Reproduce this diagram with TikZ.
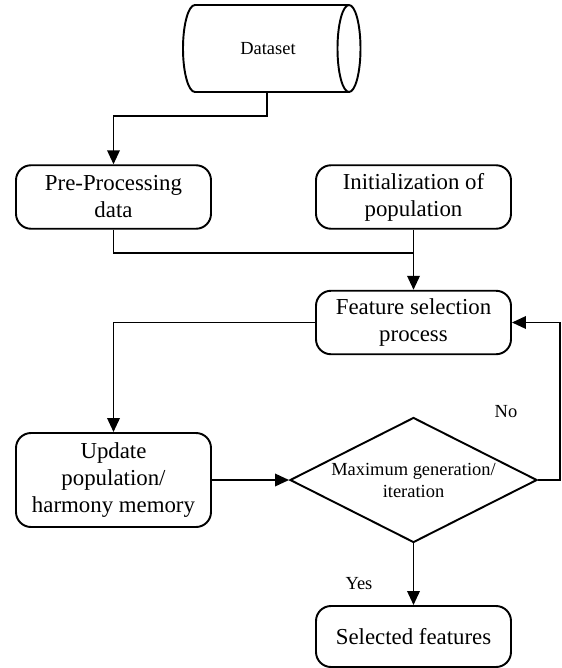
\documentclass[tikz,border=0pt]{standalone}
\usepackage{fontspec}
\setmainfont{Liberation Serif}
\usetikzlibrary{positioning}
\usetikzlibrary{shapes.geometric}
\usetikzlibrary{arrows.meta}

\tikzset{
  procbox/.style={draw, rounded corners=0.3cm, minimum width=3.9cm, minimum height=1.27cm, inner sep=0pt, align=center, font=\fontsize{13}{15.4}\selectfont},
  decbox/.style={draw, diamond, aspect=1.98, minimum width=4.94cm, minimum height=2.5cm, inner sep=0pt, align=center, font=\fontsize{10.5}{12.5}\selectfont},
  smalltxt/.style={font=\fontsize{10.5}{12.5}\selectfont},
  flow/.style={-{Triangle[length=0.28cm,width=0.25cm]}}
}

\begin{document}
\begin{tikzpicture}[line width=1.1pt]
\useasboundingbox (0,0) rectangle (11.22,-13.36);

% dataset
\draw (3.9,-0.1) -- (6.98,-0.1) arc [start angle=90, end angle=-90, x radius=0.23, y radius=0.87] -- (3.9,-1.84) arc [start angle=270, end angle=90, x radius=0.24, y radius=0.87] -- cycle;
\draw (6.98,-0.1) arc [start angle=90, end angle=270, x radius=0.23, y radius=0.87];
\node[smalltxt] (data) at (5.36,-0.97) {Dataset};
\coordinate (dataout) at (5.34,-1.84);

% boxes
\node[procbox] (pre) at (2.27,-3.94) {Pre-Processing\\data};
\node[procbox] (init) at (8.27,-3.94) {Initialization of\\population};
\node[procbox] (fsel) at (8.27,-6.45) {Feature selection\\process};
\node[procbox, minimum height=1.88cm] (upd) at (2.27,-9.6) {Update\\population/\\harmony memory};
\node[decbox] (maxgen) at (8.27,-9.6) {Maximum generation/\\iteration};
\node[procbox, minimum height=1.22cm] (sel) at (8.27,-12.73) {Selected features};

\coordinate (join) at (8.27,-5.06);
\coordinate (back) at (11.2,-9.6);

% connectors
\draw[flow] (dataout) -- ++(0,-0.48) -| (pre.north);
\draw (pre.south) |- (join);
\draw[flow] (init.south) -- (fsel.north);
\draw[flow] (fsel.west) -| (upd.north);
\draw[flow] (upd.east) -- (maxgen.west);
\draw[flow] (maxgen.east) -- (back) |- (fsel.east);
\draw[flow] (maxgen.south) -- (sel.north);

\node[smalltxt] (no) at (10.12,-8.24) {No};
\node[smalltxt] (yes) at (7.18,-11.68) {Yes};

\end{tikzpicture}
\end{document}
